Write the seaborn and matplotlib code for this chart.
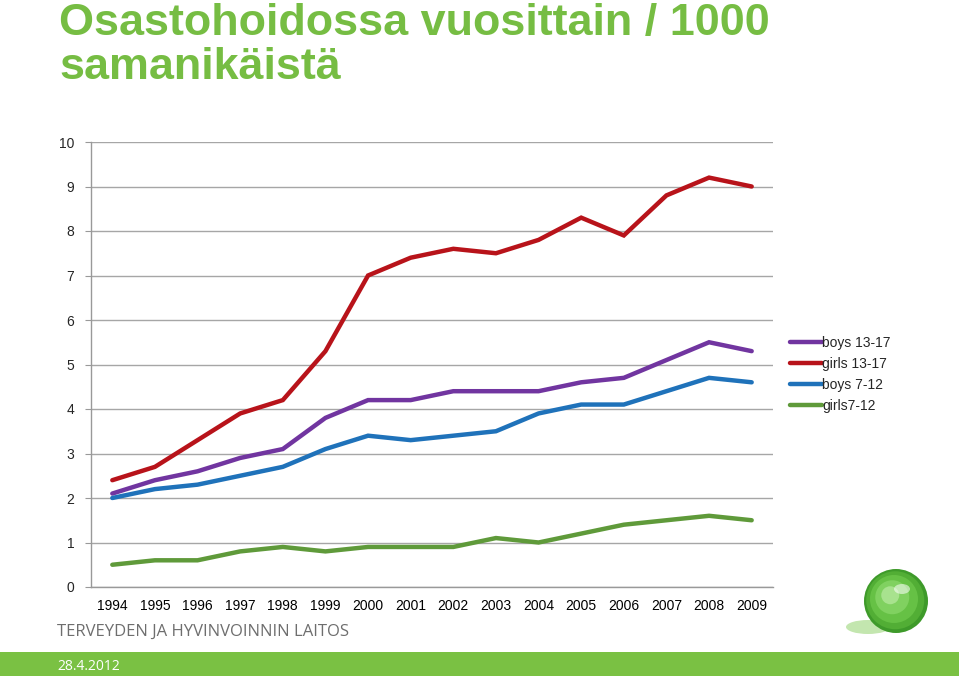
import matplotlib
matplotlib.use("Agg")
import matplotlib.pyplot as plt
import seaborn as sns
import pandas as pd
import numpy as np
from matplotlib.patches import Rectangle, Circle, Ellipse

years = ["1994", "1995", "1996", "1997", "1998", "1999", "2000", "2001",
         "2002", "2003", "2004", "2005", "2006", "2007", "2008", "2009"]
boys_13_17 = [2.1, 2.4, 2.6, 2.9, 3.1, 3.8, 4.2, 4.2, 4.4, 4.4, 4.4, 4.6, 4.7, 5.1, 5.5, 5.3]
girls_13_17 = [2.4, 2.7, 3.3, 3.9, 4.2, 5.3, 7.0, 7.4, 7.6, 7.5, 7.8, 8.3, 7.9, 8.8, 9.2, 9.0]
boys_7_12 = [2.0, 2.2, 2.3, 2.5, 2.7, 3.1, 3.4, 3.3, 3.4, 3.5, 3.9, 4.1, 4.1, 4.4, 4.7, 4.6]
girls_7_12 = [0.5, 0.6, 0.6, 0.8, 0.9, 0.8, 0.9, 0.9, 0.9, 1.1, 1.0, 1.2, 1.4, 1.5, 1.6, 1.5]
series_names = ["boys 13-17", "girls 13-17", "boys 7-12", "girls7-12"]
title = "Osastohoidossa vuosittain / 1000\nsamanikäistä"

colors = ["#7135A0", "#B8131A", "#1F72BA", "#5F9A3A"]

rows = []
for name, vals in zip(series_names, [boys_13_17, girls_13_17, boys_7_12, girls_7_12]):
    for i, v in enumerate(vals):
        rows.append({"pos": i, "year": years[i], "value": v, "series": name})
df = pd.DataFrame(rows)

sns.set_theme(style="white")
plt.rcParams['font.family'] = ['Liberation Sans', 'DejaVu Sans']

fig = plt.figure(figsize=(9.59, 6.76), dpi=100)
W, H = 959, 676
ax = fig.add_axes([91 / W, 1 - 587 / H, (773 - 91) / W, (587 - 142) / H])

sns.lineplot(data=df, x="pos", y="value", hue="series", palette=colors,
             hue_order=series_names, linewidth=3.2, ax=ax, legend=True)
for ln in ax.lines:
    ln.set_solid_joinstyle("miter")

ax.set_xlim(-0.5, len(years) - 0.5)
ax.set_ylim(0, 10)
ax.set_yticks(range(0, 11))
ax.set_xticks(range(len(years)))
ax.set_xticklabels(years)
ax.set_xticks(np.arange(-0.5, len(years), 1.0), minor=True)
ax.tick_params(axis="x", which="major", length=0, labelsize=10, pad=9, colors="black")
ax.tick_params(axis="x", which="minor", length=4, width=0.8, color="#999999", direction="out")
ax.tick_params(axis="y", which="major", length=4, width=0.8, color="#999999", labelsize=10, pad=8,
               direction="out", left=True)
ax.yaxis.grid(True, color="#A6A6A6", linewidth=1.0)
ax.set_axisbelow(True)
ax.set_xlabel("")
ax.set_ylabel("")
for s in ["top", "right"]:
    ax.spines[s].set_visible(False)
for s in ["left", "bottom"]:
    ax.spines[s].set_color("#999999")
    ax.spines[s].set_linewidth(1.0)

leg = ax.legend(loc="upper left", bbox_to_anchor=(783 / W, 1 - 329 / H), bbox_transform=fig.transFigure,
                frameon=False, fontsize=10, handlelength=2.3, handletextpad=0.0,
                labelspacing=0.5, borderpad=0)
for h in leg.legend_handles:
    h.set_linewidth(3.2)

fig.text(59 / W, 1 - 3 / H, title, ha="left", va="top", fontsize=32.3, fontweight="bold",
         color="#76BD43", linespacing=1.1)

fig.text(57 / W, 1 - 632 / H, "TERVEYDEN JA HYVINVOINNIN LAITOS", ha="left", va="center",
         fontsize=12.0, color="#6E6E6E", family=["Open Sans", "DejaVu Sans"])

fig.patches.append(Rectangle((0, 0), 1, 24 / H, transform=fig.transFigure,
                             facecolor="#7AC143", edgecolor="none", zorder=0))
fig.text(57 / W, 1 - 666 / H, "28.4.2012", ha="left", va="center", fontsize=10,
         color="white", family=["Open Sans", "DejaVu Sans"])

# decorative logo ball
lax = fig.add_axes([830 / W, 1 - 645 / H, 110 / W, 80 / H])
lax.set_xlim(0, 110)
lax.set_ylim(0, 80)
lax.set_aspect("equal")
lax.axis("off")
lax.add_patch(Ellipse((38, 18), 44, 14, facecolor="#9CD67A", edgecolor="none", alpha=0.6))
for r, c in [(32, "#3E9A2A"), (29, "#52AE35"), (24, "#66C145"), (17, "#80D160"), (9, "#A8E28E")]:
    lax.add_patch(Circle((66 - (32 - r) * 0.25, 44 + (32 - r) * 0.25), r, facecolor=c, edgecolor="none"))
lax.add_patch(Ellipse((72, 56), 16, 10, facecolor="white", edgecolor="none", alpha=0.55))

fig.savefig("out.png", dpi=100)
